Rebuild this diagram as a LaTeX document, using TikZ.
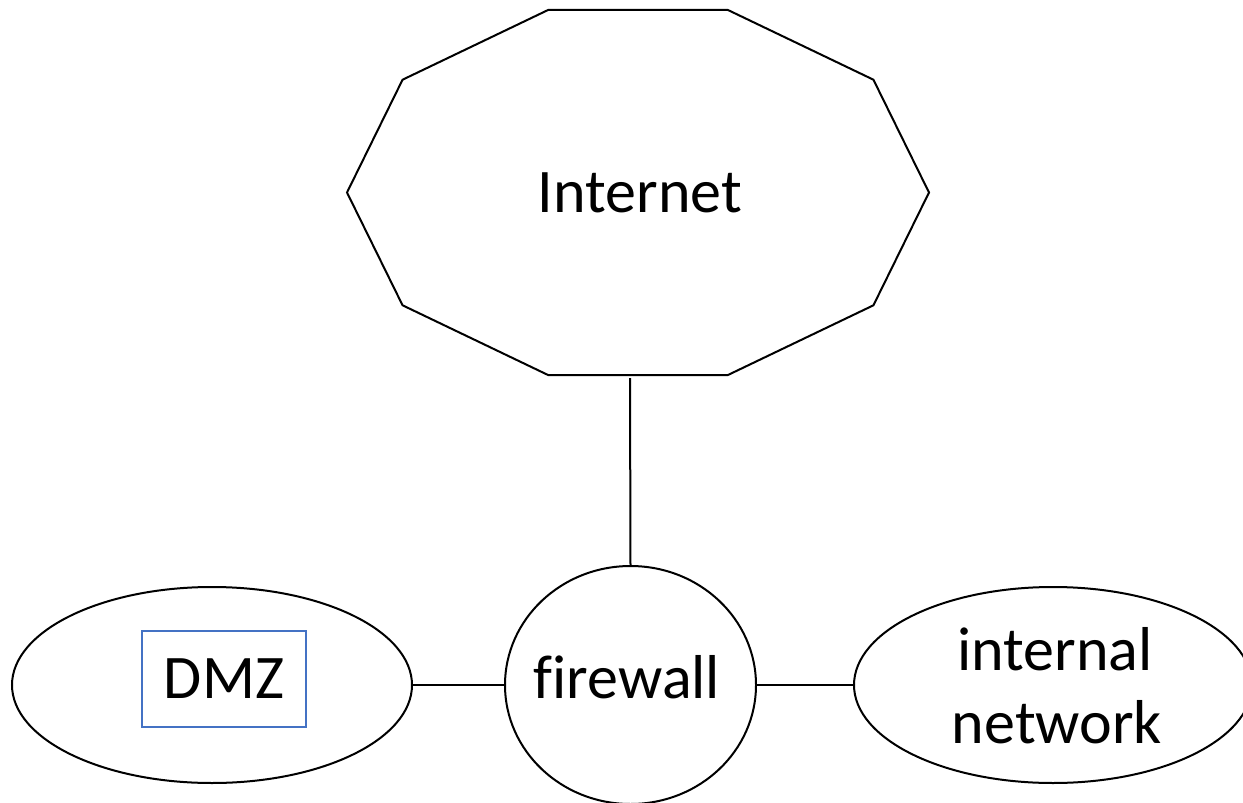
\documentclass[tikz,border=0pt]{standalone}
\usepackage{fontspec}
\setmainfont{Carlito}[Ligatures=NoCommon]
\usetikzlibrary{shapes.geometric}
\definecolor{boxblue}{HTML}{4472C4}
\begin{document}
\begin{tikzpicture}[x=0.75pt,y=-0.75pt,
  shapeline/.style={draw=black, line width=1.5pt, line join=miter},
  oval/.style={ellipse, draw=black, line width=1.5pt, inner sep=0pt, outer sep=0pt},
  lbl/.style={font=\fontsize{46.5}{56}\selectfont, inner sep=0pt, anchor=base},
  conn/.style={draw=black, line width=1.5pt}]
\useasboundingbox (0,0) rectangle (1243,803);
% Internet decagon
\coordinate (inet) at (638,192.5);
\begin{scope}[shift={(inet)}]
\draw[shapeline] (0:291 and 191.9) -- (36:291 and 191.9) -- (72:291 and 191.9) -- (108:291 and 191.9) -- (144:291 and 191.9) -- (180:291 and 191.9) -- (216:291 and 191.9) -- (252:291 and 191.9) -- (288:291 and 191.9) -- (324:291 and 191.9) -- cycle;
\end{scope}
\node[lbl] (inett) at (640,212) {Internet};
\coordinate (inetb) at (630,378);
% firewall
\node[oval, minimum width={251*0.75pt}, minimum height={238*0.75pt}] (fw) at (630.5,685) {};
\node[lbl] (fwt) at (627,698) {firewall};
% DMZ
\node[oval, minimum width={400*0.75pt}, minimum height={196*0.75pt}] (dmz) at (212,685) {};
\node[draw=boxblue, line width=1pt, minimum width={164*0.75pt}, minimum height={96*0.75pt}, inner sep=0pt] (dmzbox) at (224,679) {};
\node[lbl] (dmzt) at (224,698) {DMZ};
% internal network
\node[oval, minimum width={398*0.75pt}, minimum height={196*0.75pt}] (int) at (1053,685) {};
\node[lbl] (intt1) at (1055,670) {internal};
\node[lbl] (intt2) at (1057,743) {network};
% connectors
\draw[conn] (inetb) -- (fw.north);
\draw[conn] (dmz.east) -- (fw.west);
\draw[conn] (fw.east) -- (int.west);
\end{tikzpicture}
\end{document}
